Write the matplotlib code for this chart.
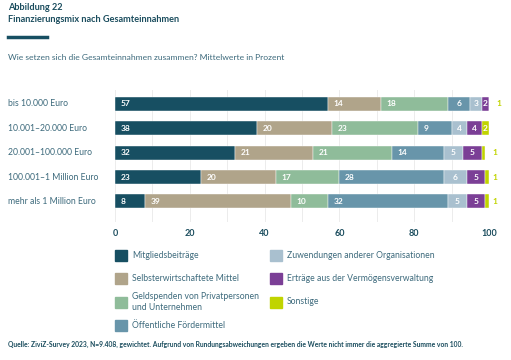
import numpy as np
import matplotlib.pyplot as plt
from matplotlib.patches import Rectangle

plt.rcParams['font.family'] = ['Lato', 'DejaVu Sans']

groups = ['bis 10.000 Euro', '10.001–20.000 Euro', '20.001–100.000 Euro',
          '100.001–1 Million Euro', 'mehr als 1 Million Euro']
sources = ['Mitgliedsbeiträge', 'Selbsterwirtschaftete Mittel',
           'Geldspenden von Privatpersonen\nund Unternehmen', 'Öffentliche Fördermittel',
           'Zuwendungen anderer Organisationen', 'Erträge aus der Vermögensverwaltung',
           'Sonstige']
mitglied = [57, 38, 32, 23, 8]
selbst = [14, 20, 21, 20, 39]
spenden = [18, 23, 21, 17, 10]
oeffentlich = [6, 9, 14, 28, 32]
zuwendungen = [3, 4, 5, 6, 5]
ertraege = [2, 4, 5, 5, 5]
sonstige = [1, 2, 1, 1, 1]
ticks = [0, 20, 40, 60, 80, 100]

colors = ['#174f62', '#b0a48a', '#8fbc9a', '#6895aa', '#a9c0cf', '#7b3f96', '#c0d400']
teal = '#1b4d5e'
txt = '#3d6a7c'

series = [mitglied, selbst, spenden, oeffentlich, zuwendungen, ertraege, sonstige]

fig = plt.figure(figsize=(5.11, 3.6), dpi=100)
W, H = 511, 360
ax = fig.add_axes([115 / W, 1 - 222 / H, 374 / W, 132 / H])

y = np.arange(len(groups))
left = np.zeros(len(groups))
for vals, c in zip(series, colors):
    vals = np.array(vals, dtype=float)
    ax.barh(y, vals, left=left, height=0.57, color=c, edgecolor='white', linewidth=0.3, zorder=2)
    for yi, (l, v) in enumerate(zip(left, vals)):
        if c == colors[-1] and v < 2:
            ax.text(max(l + v, 100) + 0.9, yi, f'{v:.0f}', color=c, fontsize=6,
                    fontweight='bold', va='center', ha='left')
        elif v >= 7:
            ax.text(l + 1.5, yi, f'{v:.0f}', color='white', fontsize=6,
                    fontweight='bold', va='center', ha='left')
        else:
            ax.text(l + v / 2, yi, f'{v:.0f}', color='white', fontsize=6,
                    fontweight='bold', va='center', ha='center')
    left += vals

ax.set_xlim(0, 100)
ax.set_ylim(4.84, -0.56)
ax.set_xticks(ticks)
ax.set_xticks(np.arange(0, 101, 10), minor=True)
ax.grid(axis='x', which='both', color='#ececec', linewidth=0.7, zorder=0)
ax.set_axisbelow(True)
ax.tick_params(axis='x', which='both', length=0, pad=5, labelsize=6.5, labelcolor=teal)
for lbl in ax.get_xticklabels():
    lbl.set_fontweight('bold')
ax.set_yticks([])
for s in ax.spines.values():
    s.set_visible(False)

for yi, g in enumerate(groups):
    py = 103.7 + yi * 24.45
    fig.text(8 / W, 1 - py / H, g, fontsize=6.2, color=txt, va='center', ha='left')

# header
fig.text(8 / W, 1 - 8 / H, 'Abbildung 22', fontsize=6.6, fontweight='bold', color=teal, va='center')
fig.text(8 / W, 1 - 20 / H, 'Finanzierungsmix nach Gesamteinnahmen', fontsize=6.6,
         fontweight='bold', color=teal, va='center')
fig.add_artist(plt.Line2D([8 / W, 47 / W], [1 - 37 / H, 1 - 37 / H], color=colors[0], linewidth=2.5))
fig.text(8 / W, 1 - 57 / H, 'Wie setzen sich die Gesamteinnahmen zusammen? Mittelwerte in Prozent',
         fontsize=6.1, color=txt, va='center')

# legend
pos = [(115, 255.5), (115, 278.5), (115, 302), (115, 325.5),
       (270, 255.5), (270, 278.5), (270, 302)]
for (px, py), lab, c in zip(pos, sources, colors):
    fig.add_artist(Rectangle((px / W, 1 - (py + 5.5) / H), 11.5 / W, 11 / H,
                             transform=fig.transFigure, color=c))
    fig.text((px + 17) / W, 1 - py / H, lab, fontsize=6.2, color=txt, va='center',
             linespacing=1.3)

fig.text(8 / W, 1 - 344 / H, 'Quelle: ZiviZ-Survey 2023, N=9.408, gewichtet. Aufgrund von '
         'Rundungsabweichungen ergeben die Werte nicht immer die aggregierte Summe von 100.',
         fontsize=4.85, fontweight='bold', color=teal, va='center')

fig.savefig('out.png', dpi=100)
